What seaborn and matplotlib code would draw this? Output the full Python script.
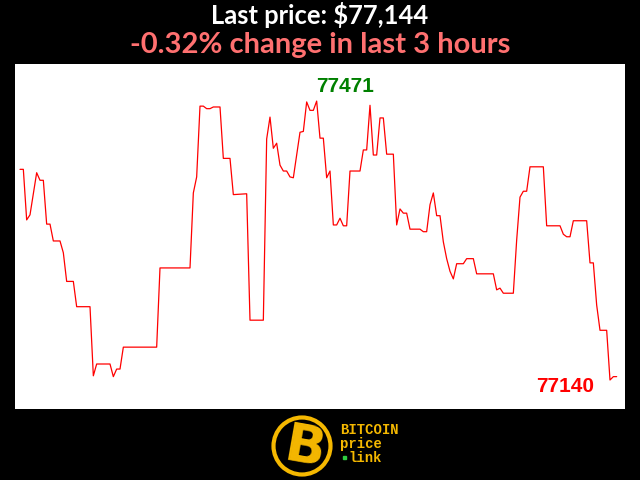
import matplotlib
matplotlib.use("Agg")
import matplotlib.pyplot as plt
import matplotlib.patches as mpatches
import seaborn as sns
import pandas as pd

# --- data (minute offset within the 3h window, price) ---
minutes = [0, 1, 2, 3, 5, 6, 7, 8, 9, 10, 12, 13, 14, 16, 17, 21, 22, 23, 27, 28,
           29, 30, 31, 41, 42, 51, 52, 53, 54, 55, 56, 57, 58, 60, 61, 63, 64, 68, 69, 73,
           74, 75, 76, 77, 78, 79, 80, 81, 82, 83, 84, 85, 86, 87, 88, 89, 90, 91, 92, 93,
           94, 95, 96, 97, 98, 99, 102, 103, 104, 105, 106, 107, 108, 109, 110, 112, 113, 114, 115, 116,
           117, 120, 121, 122, 123, 124, 125, 126, 127, 128, 129, 130, 131, 133, 134, 136, 137, 142, 143, 144,
           145, 148, 149, 150, 151, 152, 153, 157, 158, 162, 163, 164, 165, 166, 170, 171, 172, 173, 174, 176,
           177, 178, 179]
prices = [77390, 77390, 77330, 77336, 77386, 77377, 77377, 77325, 77325, 77305, 77305, 77291, 77257, 77257, 77227, 77227, 77145, 77159, 77159, 77144,
          77153, 77153, 77179, 77179, 77273, 77273, 77362, 77381, 77465, 77465, 77462, 77462, 77464, 77464, 77403, 77403, 77360, 77361, 77211, 77211,
          77426, 77452, 77415, 77421, 77395, 77388, 77388, 77381, 77380, 77407, 77434, 77435, 77470, 77460, 77460, 77471, 77427, 77427, 77380, 77388,
          77324, 77324, 77332, 77323, 77323, 77388, 77388, 77413, 77413, 77466, 77407, 77407, 77451, 77451, 77408, 77408, 77324, 77343, 77338, 77338,
          77319, 77319, 77316, 77316, 77348, 77362, 77335, 77335, 77304, 77284, 77269, 77260, 77278, 77278, 77284, 77284, 77266, 77266, 77247, 77249,
          77243, 77243, 77306, 77357, 77364, 77364, 77393, 77393, 77323, 77323, 77313, 77310, 77310, 77329, 77329, 77279, 77279, 77229, 77199, 77199,
          77140, 77144, 77144]

title_text = "Last price: $77,144"
subtitle_text = "-0.32% change in last 3 hours"
logo_lines = ["BITCOIN", "price", "link"]

df = pd.DataFrame({"minute": minutes, "price": prices})

sns.set_theme(style="white")
plt.rcParams["font.family"] = ["DejaVu Sans"]

fig = plt.figure(figsize=(6.4, 4.8), dpi=100, facecolor="black")
W, H = 640, 480
ax = fig.add_axes([15 / W, 1 - 409 / H, 610 / W, 345 / H])
ax.set_facecolor("white")

sns.lineplot(data=df, x="minute", y="price", color="red", linewidth=0.9, ax=ax)

pmax = max(prices); pmin = min(prices)
ax.set_xlim(-1.5, 181.5)
ax.set_ylim(pmin - 34.4, pmax + 44)
ax.set_xticks([]); ax.set_yticks([])
ax.set_xlabel(""); ax.set_ylabel("")
for s in ax.spines.values():
    s.set_visible(False)

imax = prices.index(pmax)
imin = prices.index(pmin)
ax.annotate(str(pmax), (minutes[imax], pmax), xytext=(-1, 9.5), textcoords="offset pixels",
            ha="left", va="baseline", color="green", fontsize=15, fontweight="bold",
            family="Liberation Sans")
ax.annotate(str(pmin), (minutes[imin], pmin), xytext=(-15.5, -11.5), textcoords="offset pixels",
            ha="right", va="baseline", color="red", fontsize=15, fontweight="bold",
            family="Liberation Sans")

fig.text(0.5, 1 - 24.5 / H, title_text, ha="center", va="baseline", color="white",
         fontsize=18.4, fontweight="bold", family="Lato")
fig.text(0.5, 1 - 53.5 / H, subtitle_text, ha="center", va="baseline", color="#ff7070",
         fontsize=21, fontweight="bold", family="Lato")

# logo
gold = "#f5b800"
lax = fig.add_axes([0, 0, 1, 1], facecolor="none")
lax.set_xlim(0, W); lax.set_ylim(H, 0); lax.axis("off")
lax.add_patch(mpatches.Circle((302, 446), 28.5, fill=False, edgecolor=gold, linewidth=3.0))
lax.text(304, 448, "B", ha="center", va="center", color=gold, fontsize=38,
         fontweight="bold", family="DejaVu Sans", rotation=-10)
lax.text(340, 434, logo_lines[0], ha="left", va="baseline", color=gold, fontsize=10,
         fontweight="bold", family="Liberation Mono")
lax.text(340, 448, logo_lines[1], ha="left", va="baseline", color=gold, fontsize=10,
         fontweight="bold", family="Liberation Mono")
lax.text(348.5, 462, logo_lines[2], ha="left", va="baseline", color=gold, fontsize=10,
         fontweight="bold", family="Liberation Mono")
lax.add_patch(mpatches.Rectangle((343, 456), 3, 3, color="#2ecc40"))

fig.savefig("out.png", dpi=100, facecolor="black")
